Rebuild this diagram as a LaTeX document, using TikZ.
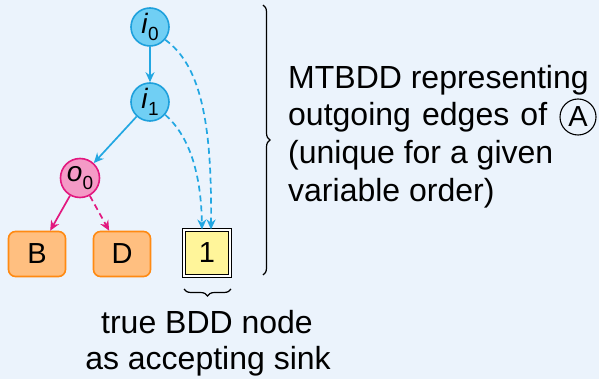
\documentclass[tikz,border=0pt]{standalone}
\usepackage{fontspec}
\setmainfont{Liberation Sans}
\usetikzlibrary{arrows.meta,decorations.pathreplacing}
\definecolor{bg}{HTML}{EBF3FC}
\definecolor{vfill}{HTML}{70CFF4}
\definecolor{vdraw}{HTML}{1EA0DC}
\definecolor{vedge}{HTML}{22A7E2}
\definecolor{mfill}{HTML}{F49AC6}
\definecolor{mdraw}{HTML}{E2187F}
\definecolor{ofill}{HTML}{FFBF80}
\definecolor{odraw}{HTML}{FF8A12}
\definecolor{yfill}{HTML}{FFF59A}
\newcommand{\lowsub}[1]{\raisebox{-0.5ex}{\fontsize{19}{19}\selectfont #1}}
\begin{document}
\begin{tikzpicture}[x=1pt,y=-1pt,
  txt/.style={font=\fontsize{32}{38}\selectfont, inner sep=0pt},
  var/.style={circle, draw=vdraw, fill=vfill, line width=1.6pt, minimum size=38pt, inner sep=0pt, font=\fontsize{28}{28}\selectfont},
  outv/.style={circle, draw=mdraw, fill=mfill, line width=1.6pt, minimum size=39pt, inner sep=0pt, font=\fontsize{28}{28}\selectfont},
  leaf/.style={rectangle, rounded corners=7pt, draw=odraw, fill=ofill, line width=1.6pt, minimum width=57pt, minimum height=45pt, inner sep=0pt, font=\fontsize{29}{29}\selectfont},
  sink/.style={rectangle, draw=black, double=white, double distance=2pt, line width=1.1pt, fill=yfill, minimum size=46pt, inner sep=0pt, font=\fontsize{29}{29}\selectfont},
  tip/.style={-{Stealth[length=10pt,width=9pt]}},
  bedge/.style={tip, draw=vedge, line width=1.7pt},
  bdash/.style={bedge, dash pattern=on 6pt off 4pt},
  medge/.style={tip, draw=mdraw, line width=1.7pt},
  mdash/.style={medge, dash pattern=on 6pt off 4pt},
  brc/.style={decorate, decoration={brace, amplitude=7pt}, line width=1.2pt}
]
\path[fill=bg] (0,0) rectangle (599,379);

\node[var] (i0) at (150,27) {\textit{i}\lowsub{0}};
\node[var] (i1) at (150,102) {\textit{i}\lowsub{1}};
\node[outv] (o0) at (80,178) {\textit{o}\lowsub{0}};
\node[leaf] (B) at (37,254) {B};
\node[leaf] (D) at (122,254) {D};
\node[sink] (one) at (207,253) {1};

\draw[bedge] (i0) -- (i1);
\draw[bedge] (i1) -- (o0);
\draw[medge] (o0) -- (B);
\draw[mdash] (o0) -- (D);
\draw[bdash] (i0.-40) .. controls (200,65) and (212,120) .. ([xshift=4pt]one.north);
\draw[bdash] (i1.-40) .. controls (188,135) and (201,170) .. ([xshift=-5pt]one.north);

\coordinate (bt) at (263,5);
\coordinate (bb) at (263,275);
\draw[brc] (bt) -- (bb);
\coordinate (sr) at (231,289);
\coordinate (sl) at (184,289);
\draw[brc] (sr) -- (sl);

\node[txt, anchor=base west] (l1) at (288,89) {MTBDD representing};
\node[txt, anchor=base west] (l2) at (288,126) {\makebox[259pt][s]{outgoing edges of}};
\node[circle, draw=black, line width=1.1pt, minimum size=36pt, inner sep=0pt, font=\fontsize{29}{29}\selectfont] (A) at (578,117) {A};
\node[txt, anchor=base west] (l3) at (288,164) {(unique for a given};
\node[txt, anchor=base west] (l4) at (288,202) {variable order)};

\node[txt, anchor=base] (b1) at (207,333) {true BDD node};
\node[txt, anchor=base] (b2) at (208,369) {as accepting sink};
\end{tikzpicture}
\end{document}
